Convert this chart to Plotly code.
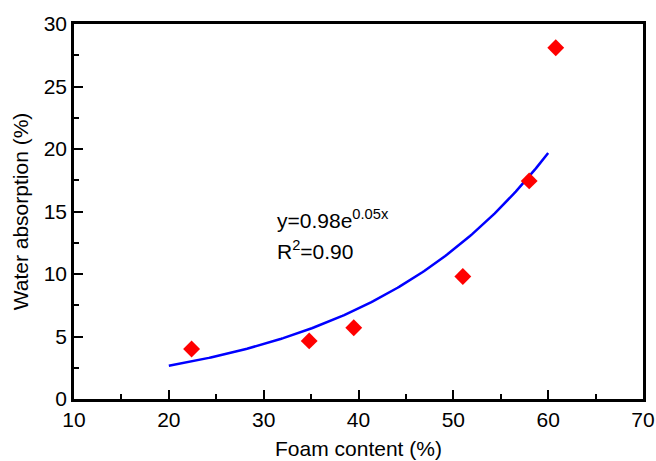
import numpy as np
import plotly.graph_objects as go

# Measured data
foam_content = [22.4, 34.8, 39.5, 51.0, 58.0, 60.8]
water_absorption = [4.0, 4.65, 5.7, 9.8, 17.45, 28.1]

# Exponential fit shown on the chart: y = a * exp(b x)
fit_a = 0.98
fit_b = 0.05
fit_x_start = 20
fit_x_end = 60

x_ticks = [10, 20, 30, 40, 50, 60, 70]
y_ticks = [0, 5, 10, 15, 20, 25, 30]

fit_x = np.linspace(fit_x_start, fit_x_end, 200)
fit_y = fit_a * np.exp(fit_b * fit_x)

FONT = "Arial, Liberation Sans, Helvetica, sans-serif"
FS = 21

fig = go.Figure()
fig.add_trace(go.Scatter(x=fit_x, y=fit_y, mode="lines",
                         line=dict(color="#0000FF", width=2.5),
                         showlegend=False, hoverinfo="skip"))
fig.add_trace(go.Scatter(x=foam_content, y=water_absorption, mode="markers",
                         marker=dict(symbol="diamond", color="#FF0000", size=13,
                                     line=dict(width=0)),
                         showlegend=False))

axis_common = dict(
    showgrid=False, zeroline=False, showline=True, linecolor="black",
    linewidth=2.5, mirror=True, ticks="inside", tickwidth=2, tickcolor="black",
    tickfont=dict(family=FONT, size=FS, color="black"), automargin=False,
)

fig.update_xaxes(
    range=[10, 70], tickvals=x_ticks, ticklen=9,
    minor=dict(dtick=5, ticks="inside", ticklen=5, tickwidth=2, tickcolor="black"),
    title=dict(text="Foam content (%)", font=dict(family=FONT, size=FS, color="black"), standoff=12),
    **axis_common,
)
fig.update_yaxes(
    range=[0, 30], tickvals=y_ticks, ticklen=9,
    minor=dict(dtick=2.5, ticks="inside", ticklen=5, tickwidth=2, tickcolor="black"),
    title=dict(text="Water absorption (%)", font=dict(family=FONT, size=FS, color="black"), standoff=10),
    **axis_common,
)

fig.add_annotation(x=31.2, y=14.4, xref="x", yref="y", xanchor="left", yanchor="middle",
                   text="y=0.98e<sup>0.05x</sup>", showarrow=False,
                   font=dict(family=FONT, size=FS, color="black"))
fig.add_annotation(x=31.2, y=11.95, xref="x", yref="y", xanchor="left", yanchor="middle",
                   text="R<sup>2</sup>=0.90", showarrow=False,
                   font=dict(family=FONT, size=FS, color="black"))

fig.update_layout(
    width=656, height=461,
    margin=dict(l=74, r=13, t=24, b=62),
    paper_bgcolor="white", plot_bgcolor="white",
    font=dict(family=FONT, size=FS, color="black"),
)

fig.write_html(
    "out.html",
    config={"displayModeBar": False},
    post_script="document.body.style.margin='0';document.body.style.overflow='hidden';",
)
